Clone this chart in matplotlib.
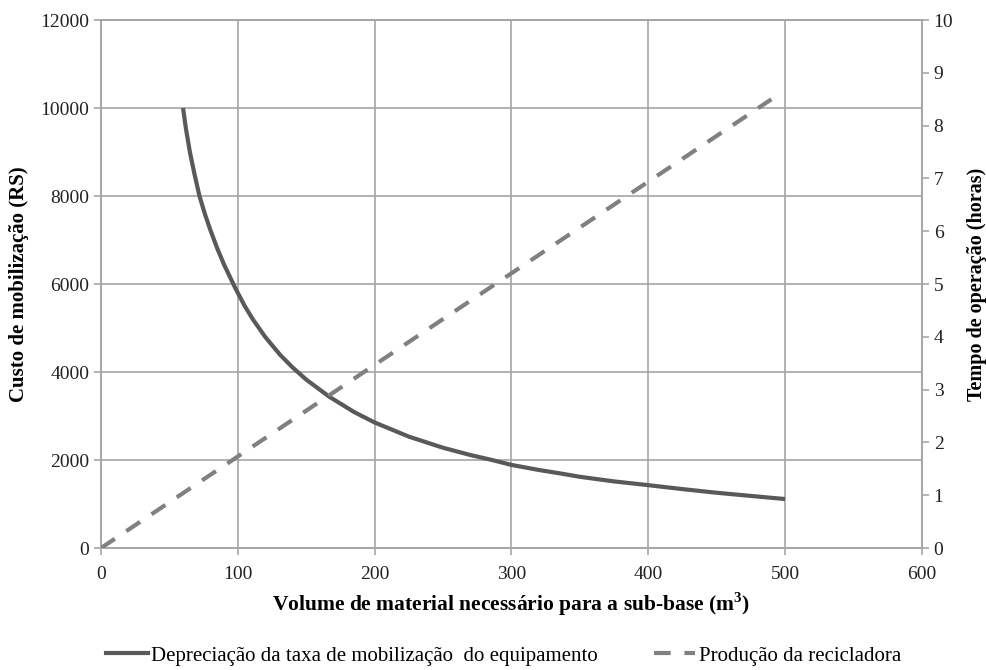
import matplotlib
matplotlib.use("Agg")
import matplotlib.pyplot as plt
from matplotlib.lines import Line2D

# Data
vol_cost = [60, 62, 65, 68, 72, 76, 80, 85, 90, 98, 105, 111, 120, 131, 140, 150, 167, 185,
            200, 225, 250, 270, 286, 300, 320, 335, 350, 375, 400, 425, 450, 475, 500]
cost = [10000, 9550, 9000, 8550, 8000, 7590, 7225, 6810, 6440, 5920, 5505, 5200, 4800, 4390,
        4107, 3830, 3437, 3092, 2855, 2533, 2280, 2115, 2000, 1890, 1775, 1700, 1620, 1515,
        1430, 1340, 1257, 1185, 1114]
vol_prod = [0, 490]
hours = [0, 8.5]

x_ticks = [0, 100, 200, 300, 400, 500, 600]
left_ticks = [0, 2000, 4000, 6000, 8000, 10000, 12000]
right_ticks = [0, 1, 2, 3, 4, 5, 6, 7, 8, 9, 10]

plt.rcParams['font.family'] = ['Liberation Serif', 'DejaVu Serif']

fig = plt.figure(figsize=(9.87, 6.70), dpi=100)
ax = fig.add_axes([0.1023, 0.182, 0.8317, 0.788])
ax2 = ax.twinx()

grid_c = '#a6a6a6'
ax.set_xlim(0, 600)
ax.set_ylim(0, 12000)
ax2.set_ylim(0, 10)
ax.set_xticks(x_ticks)
ax.set_yticks(left_ticks)
ax2.set_yticks(right_ticks)
ax.grid(True, color=grid_c, linewidth=1.2)
ax.set_axisbelow(True)

for a in (ax, ax2):
    for s in a.spines.values():
        s.set_color(grid_c)
        s.set_linewidth(1.2)
    a.tick_params(colors=grid_c, labelcolor='#222222', labelsize=14, length=5, width=1.2)
ax.tick_params(axis='x', pad=8)

ax.plot(vol_cost, cost, color='#595959', linewidth=3, solid_capstyle='butt',
        solid_joinstyle='round', zorder=3)
ax2.plot(vol_prod, hours, color='#808080', linewidth=3, dashes=(4, 3.3), zorder=3)

ax.set_xlabel('Volume de material necessário para a sub-base (m$^\\mathregular{3}$)',
              fontsize=15.5, fontweight='bold', labelpad=5)
ax.set_ylabel('Custo de mobilização (RS)', fontsize=15, fontweight='bold', labelpad=8)
ax2.set_ylabel('Tempo de operação (horas)', fontsize=14.5, fontweight='bold', labelpad=10)

handles = [Line2D([], [], color='#595959', linewidth=3),
           Line2D([], [], color='#808080', linewidth=3, dashes=(4, 3.3))]
labels = ['Depreciação da taxa de mobilização  do equipamento', 'Produção da recicladora']
fig.legend(handles, labels, loc='center', bbox_to_anchor=(0.51, 0.021), ncol=2,
           frameon=False, fontsize=15, handlelength=2.0, handletextpad=0.15,
           columnspacing=2.7)

fig.savefig('out.png', dpi=100)
